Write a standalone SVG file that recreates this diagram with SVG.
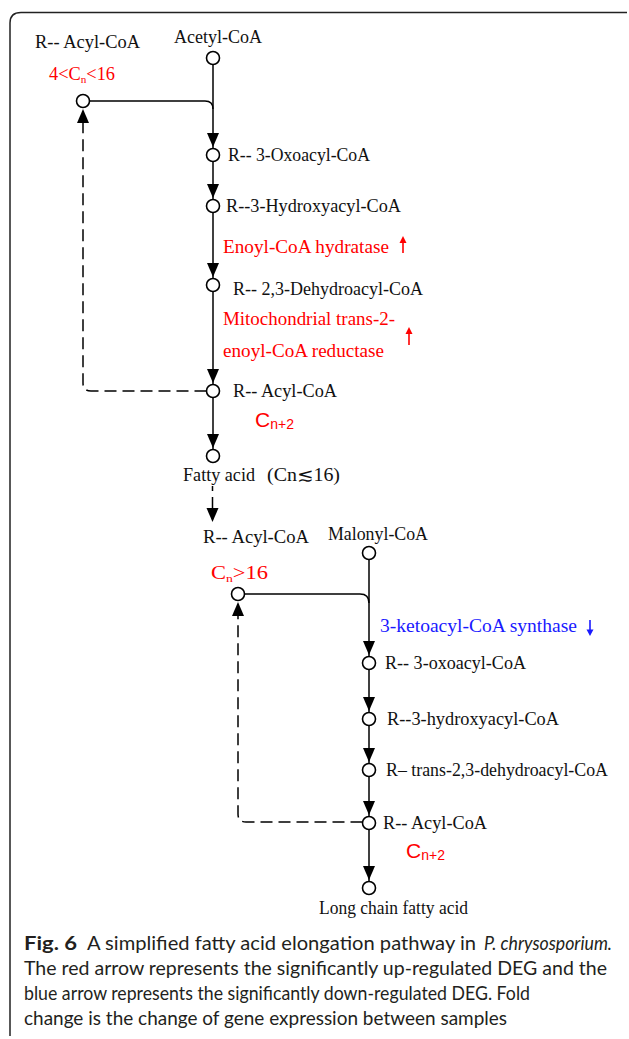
<svg xmlns="http://www.w3.org/2000/svg" xmlns:xlink="http://www.w3.org/1999/xlink" width="629" height="1039" viewBox="0 0 629 1039">
<style>
.lbl{font-family:"Liberation Serif","Times New Roman",serif;font-size:18px;fill:#111}
.rd{font-family:"Liberation Serif","Times New Roman",serif;font-size:18px;fill:#ff0000}
.enz{font-family:"Liberation Serif","Times New Roman",serif;font-size:18px;fill:#ff0000}
.bl{font-family:"Liberation Serif","Times New Roman",serif;font-size:18px;fill:#1a1aff}
.cn{font-family:"Liberation Sans",Arial,sans-serif;fill:#ff0000}
.node{fill:#fff;stroke:#000;stroke-width:1.6}
.ln{stroke:#000;stroke-width:1.5;fill:none}
.dash{stroke-dasharray:12 6}
.cap{font-family:Lato,"Liberation Sans",sans-serif;font-size:19px;fill:#231f20}
.frame{fill:none;stroke:#222;stroke-width:1.5}
</style>
<defs>
<path id="ahd" d="M-6,-14 L6,-14 L0,0 Z" fill="#000"/>
<path id="ahu" d="M-6,14 L6,14 L0,0 Z" fill="#000"/>
</defs>
<rect width="629" height="1039" fill="#fff"/>
<path class="frame" d="M10,1036 V23 Q10,12.5 21,12.5 H627"/>

<g id="connectors">
<path class="ln" d="M213,64.5 V449"/>
<path class="ln" d="M89.5,101 H205 Q213,101 213,109"/>
<path class="ln dash" d="M206.5,391 H91 Q83,391 83,383 V122"/>
<path class="ln" d="M212.5,486 V491 M212.5,497 V509"/>
<path class="ln" d="M369,559.5 V881"/>
<path class="ln" d="M244.5,594 H360 Q369,594 369,603"/>
<path class="ln dash" d="M362.5,822 H246 Q238,822 238,814 V616"/>
<use xlink:href="#ahd" x="213" y="147"/>
<use xlink:href="#ahd" x="213" y="198"/>
<use xlink:href="#ahd" x="213" y="277"/>
<use xlink:href="#ahd" x="213" y="383"/>
<use xlink:href="#ahd" x="213" y="448"/>
<use xlink:href="#ahu" x="83" y="109"/>
<use xlink:href="#ahd" x="212.5" y="522"/>
<use xlink:href="#ahd" x="369" y="655"/>
<use xlink:href="#ahd" x="369" y="711"/>
<use xlink:href="#ahd" x="369" y="762"/>
<use xlink:href="#ahd" x="369" y="815"/>
<use xlink:href="#ahd" x="369" y="880"/>
<use xlink:href="#ahu" x="238" y="602"/>
</g>

<g id="n-acyl-top">
<text class="lbl" x="35" y="48" textLength="105" lengthAdjust="spacingAndGlyphs">R-- Acyl-CoA</text>
<text class="rd" x="49" y="80" textLength="66" lengthAdjust="spacingAndGlyphs">4&lt;C<tspan font-size="11" dy="3">n</tspan><tspan dy="-3">&lt;16</tspan></text>
<circle class="node" cx="83" cy="101" r="6.5"/>
</g>
<g id="n-acetyl">
<text class="lbl" x="174" y="43" textLength="88" lengthAdjust="spacingAndGlyphs">Acetyl-CoA</text>
<circle class="node" cx="213" cy="58" r="6.5"/>
</g>
<g id="n-oxo">
<circle class="node" cx="213" cy="155" r="6.5"/>
<text class="lbl" x="228" y="161" textLength="142" lengthAdjust="spacingAndGlyphs">R-- 3-Oxoacyl-CoA</text>
</g>
<g id="n-hydroxy">
<circle class="node" cx="213" cy="206" r="6.5"/>
<text class="lbl" x="226" y="212" textLength="175" lengthAdjust="spacingAndGlyphs">R--3-Hydroxyacyl-CoA</text>
</g>
<g id="e-hydratase">
<text class="enz" x="223" y="253" textLength="166" lengthAdjust="spacingAndGlyphs">Enoyl-CoA hydratase</text>
<path d="M403,253 V240" stroke="#f00" stroke-width="1.6"/>
<path d="M399.5,243 L406.5,243 L403,236 Z" fill="#f00"/>
</g>
<g id="n-dehydro">
<circle class="node" cx="213" cy="285" r="6.5"/>
<text class="lbl" x="233" y="295" textLength="190" lengthAdjust="spacingAndGlyphs">R-- 2,3-Dehydroacyl-CoA</text>
</g>
<g id="e-reductase">
<text class="enz" x="223" y="325" textLength="172" lengthAdjust="spacingAndGlyphs">Mitochondrial trans-2-</text>
<text class="enz" x="223" y="357" textLength="161" lengthAdjust="spacingAndGlyphs">enoyl-CoA reductase</text>
<path d="M409,345 V331" stroke="#f00" stroke-width="1.6"/>
<path d="M405.5,334 L412.5,334 L409,327 Z" fill="#f00"/>
</g>
<g id="n-acyl-n2">
<circle class="node" cx="213" cy="391" r="6.5"/>
<text class="lbl" x="233" y="397" textLength="104" lengthAdjust="spacingAndGlyphs">R-- Acyl-CoA</text>
<text class="cn" x="255" y="427"><tspan font-size="21">C</tspan><tspan font-size="14" dy="2">n+2</tspan></text>
</g>
<g id="n-fatty">
<circle class="node" cx="213" cy="456" r="6.5"/>
<text class="lbl" x="183" y="481" textLength="72" lengthAdjust="spacingAndGlyphs">Fatty acid</text>
<text class="lbl" x="267" y="481" textLength="73" lengthAdjust="spacingAndGlyphs">(Cn≲16)</text>
</g>
<g id="n-acyl-2">
<text class="lbl" x="203" y="543" textLength="106" lengthAdjust="spacingAndGlyphs">R-- Acyl-CoA</text>
<text class="rd" x="211" y="579" textLength="57" lengthAdjust="spacingAndGlyphs">C<tspan font-size="11" dy="3">n</tspan><tspan dy="-3">&gt;16</tspan></text>
<circle class="node" cx="238" cy="594" r="6.5"/>
</g>
<g id="n-malonyl">
<text class="lbl" x="328" y="540" textLength="100" lengthAdjust="spacingAndGlyphs">Malonyl-CoA</text>
<circle class="node" cx="369" cy="553" r="6.5"/>
</g>
<g id="e-synthase">
<text class="bl" x="380" y="632" textLength="197" lengthAdjust="spacingAndGlyphs">3-ketoacyl-CoA synthase</text>
<path d="M590,620 V632" stroke="#1a1aff" stroke-width="1.6"/>
<path d="M586.5,629.5 L593.5,629.5 L590,636 Z" fill="#1a1aff"/>
</g>
<g id="n-oxo-2">
<circle class="node" cx="369" cy="663" r="6.5"/>
<text class="lbl" x="385" y="669" textLength="141" lengthAdjust="spacingAndGlyphs">R-- 3-oxoacyl-CoA</text>
</g>
<g id="n-hydroxy-2">
<circle class="node" cx="369" cy="719" r="6.5"/>
<text class="lbl" x="387" y="725" textLength="172" lengthAdjust="spacingAndGlyphs">R--3-hydroxyacyl-CoA</text>
</g>
<g id="n-trans">
<circle class="node" cx="369" cy="770" r="6.5"/>
<text class="lbl" x="386" y="776" textLength="222" lengthAdjust="spacingAndGlyphs">R– trans-2,3-dehydroacyl-CoA</text>
</g>
<g id="n-acyl-n2-2">
<circle class="node" cx="369" cy="823" r="6.5"/>
<text class="lbl" x="383" y="829" textLength="104" lengthAdjust="spacingAndGlyphs">R-- Acyl-CoA</text>
<text class="cn" x="406" y="858"><tspan font-size="21">C</tspan><tspan font-size="14" dy="2">n+2</tspan></text>
</g>
<g id="n-long">
<circle class="node" cx="369" cy="888" r="6.5"/>
<text class="lbl" x="319" y="914" textLength="149" lengthAdjust="spacingAndGlyphs">Long chain fatty acid</text>
</g>

<g id="caption">
<text class="cap" x="24" y="950" font-weight="bold" textLength="53" lengthAdjust="spacingAndGlyphs">Fig. 6</text>
<text class="cap" x="87" y="950" textLength="389" lengthAdjust="spacingAndGlyphs">A simplified fatty acid elongation pathway in</text>
<text class="cap" x="484" y="950" font-style="italic" textLength="128" lengthAdjust="spacingAndGlyphs">P. chrysosporium.</text>
<text class="cap" x="24" y="975" textLength="583" lengthAdjust="spacingAndGlyphs">The red arrow represents the significantly up-regulated DEG and the</text>
<text class="cap" x="24" y="1000" textLength="506" lengthAdjust="spacingAndGlyphs">blue arrow represents the significantly down-regulated DEG. Fold</text>
<text class="cap" x="24" y="1025" textLength="483" lengthAdjust="spacingAndGlyphs">change is the change of gene expression between samples</text>
</g>
</svg>
